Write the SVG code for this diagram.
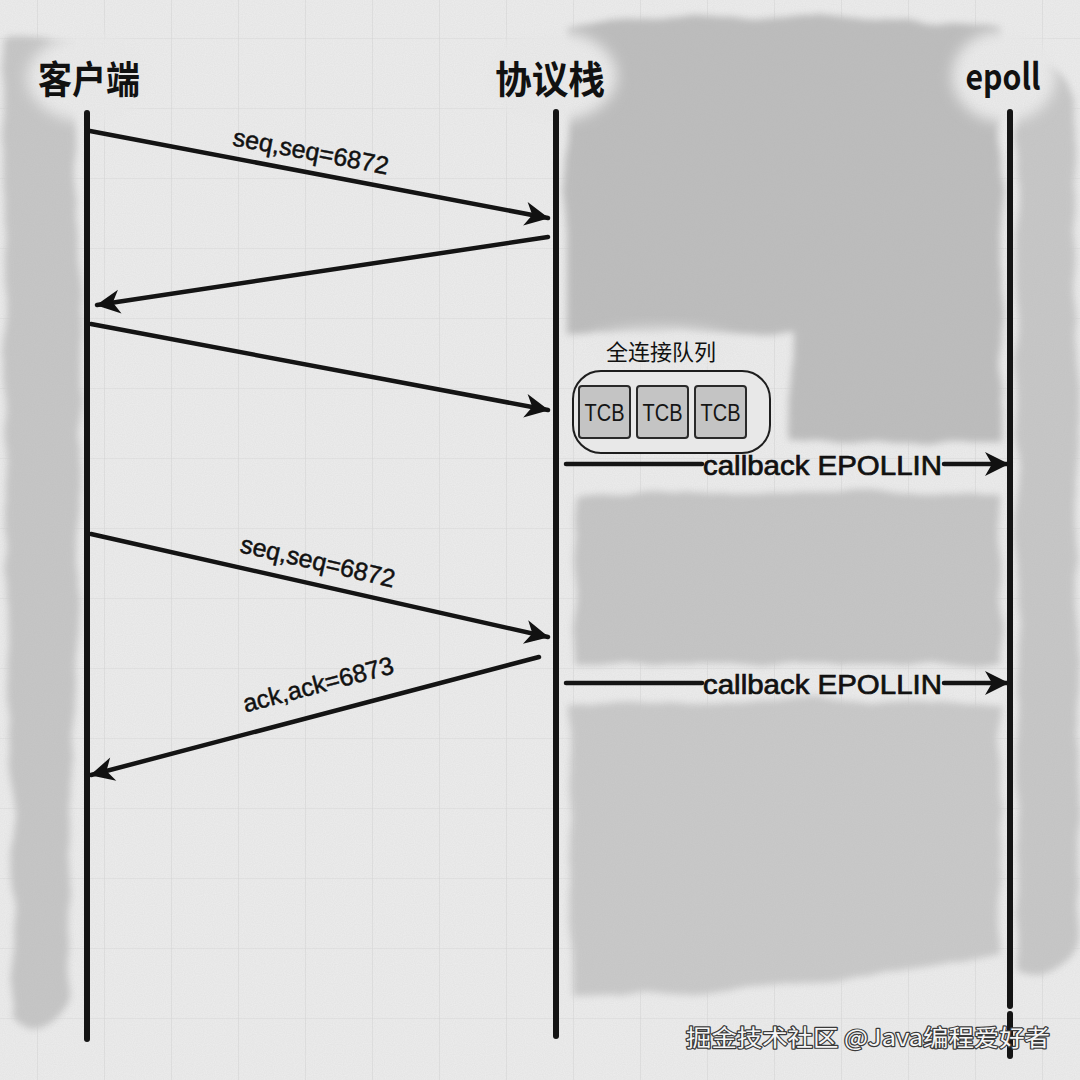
<svg xmlns="http://www.w3.org/2000/svg" width="1080" height="1080" viewBox="0 0 1080 1080">
<style>
.life{stroke:#141414;stroke-width:6;stroke-linecap:round;fill:none}
.msg{stroke:#141414;stroke-width:4.5;fill:none;stroke-linecap:round}
.title{font-family:"Noto Sans CJK SC","Liberation Sans",sans-serif;font-weight:700;fill:#111;text-anchor:middle}
.lbl{font-family:"Liberation Sans","Noto Sans",sans-serif;font-size:25px;fill:#111;stroke:#111;stroke-width:0.5;text-anchor:middle}
.cb{font-family:"Liberation Sans","Noto Sans",sans-serif;font-size:27px;fill:#111;stroke:#111;stroke-width:0.7}
.tcb{fill:#c4c4c4;stroke:#2a2a2a;stroke-width:2}
.tcbt{font-family:"Liberation Sans",sans-serif;font-size:23px;fill:#151515;text-anchor:middle}
.shade{filter:url(#rough)}
.halo{fill:#ebebeb;filter:url(#soft)}
.wm{font-family:"Noto Sans CJK SC","Liberation Sans",sans-serif;font-size:23px;fill:#f6f6f6;stroke:#3a3a3a;stroke-width:2.4;paint-order:stroke;stroke-linejoin:round}
</style>
<defs>
<pattern id="grid" width="67" height="70" patternUnits="userSpaceOnUse" x="-30" y="-32">
<path d="M0,0 H67 M0,0 V70" stroke="#d9d9d9" stroke-width="1.2" fill="none"/>
</pattern>
<filter id="rough" x="-10%" y="-10%" width="120%" height="120%">
<feTurbulence type="fractalNoise" baseFrequency="0.018" numOctaves="2" seed="3" result="n"/>
<feDisplacementMap in="SourceGraphic" in2="n" scale="12" xChannelSelector="R" yChannelSelector="G" result="d"/>
<feGaussianBlur in="d" stdDeviation="3.5"/>
</filter>
<filter id="soft" x="-30%" y="-30%" width="160%" height="160%">
<feGaussianBlur stdDeviation="7"/>
</filter>
<filter id="grain" x="0" y="0" width="100%" height="100%">
<feTurbulence type="fractalNoise" baseFrequency="0.9" numOctaves="1" seed="7" result="t"/>
<feColorMatrix in="t" type="matrix" values="0 0 0 0 0.4  0 0 0 0 0.4  0 0 0 0 0.4  0 0 0 0.35 -0.05"/>
</filter>
<marker id="ah" viewBox="0 0 26 26" refX="24" refY="13" markerWidth="26" markerHeight="26" markerUnits="userSpaceOnUse" orient="auto">
<path d="M1,1 L25,13 L1,25 L8,13 Z" fill="#111"/>
</marker>
</defs>

<!-- paper -->
<rect width="1080" height="1080" fill="#ececec"/>
<rect width="1080" height="1080" fill="url(#grid)"/>

<!-- pencil shading -->
<g id="shading">
<path class="shade" fill="#c6c6c6" d="M4,40 C25,32 55,36 74,48 L80,300 L78,600 L72,760 L68,1000 C55,1035 30,1035 14,1018 L12,820 L6,560 Z"/>
<path class="shade" fill="#bdbdbd" d="M566,28 C680,12 880,16 1000,28 L1002,442 L790,442 L792,334 L566,334 Z"/>
<path class="shade" fill="#c7c7c7" d="M1016,60 C1040,58 1070,70 1076,100 L1078,940 C1070,975 1040,980 1018,975 Z"/>
<path class="shade" fill="#c5c5c5" d="M576,496 C700,490 900,492 1000,494 L1000,664 L576,664 Z"/>
<path class="shade" fill="#c9c9c9" d="M570,706 C700,700 880,700 1000,704 L1000,955 C920,975 800,985 700,992 L572,996 Z"/>
<ellipse class="halo" cx="89" cy="78" rx="62" ry="44"/>
<ellipse class="halo" cx="551" cy="76" rx="66" ry="46"/>
<ellipse class="halo" cx="1004" cy="76" rx="52" ry="46"/>
<ellipse class="halo" cx="662" cy="348" rx="80" ry="20"/>
</g>
<rect width="1080" height="1080" filter="url(#grain)" opacity="0.5"/>

<!-- nodes -->
<g id="node-client">
<text class="title" x="89" y="93" font-size="38" textLength="102" lengthAdjust="spacingAndGlyphs">客户端</text>
<line class="life" x1="87" y1="113" x2="87" y2="1039"/>
</g>
<g id="node-stack">
<text class="title" x="550" y="93" font-size="38" textLength="110" lengthAdjust="spacingAndGlyphs">协议栈</text>
<line class="life" x1="556" y1="112" x2="556" y2="1036"/>
</g>
<g id="node-epoll">
<text class="title" x="1003" y="90" font-size="36" font-family="Liberation Sans, sans-serif" textLength="75" lengthAdjust="spacingAndGlyphs">epoll</text>
<line class="life" x1="1010" y1="112" x2="1010" y2="1006"/>
<line class="life" x1="1010" y1="1014" x2="1010" y2="1056"/>
</g>
<g id="node-queue">
<text x="661" y="360" font-family="Noto Sans CJK SC, sans-serif" font-size="22" fill="#111" text-anchor="middle">全连接队列</text>
<rect x="573" y="371" width="197" height="82" rx="28" ry="28" fill="#e8e8e8" stroke="#1e1e1e" stroke-width="2"/>
<rect class="tcb" x="579" y="386" width="51" height="52" rx="3"/>
<rect class="tcb" x="637" y="386" width="51" height="52" rx="3"/>
<rect class="tcb" x="695" y="386" width="51" height="52" rx="3"/>
<text class="tcbt" x="604.5" y="421" textLength="40" lengthAdjust="spacingAndGlyphs">TCB</text>
<text class="tcbt" x="662.5" y="421" textLength="40" lengthAdjust="spacingAndGlyphs">TCB</text>
<text class="tcbt" x="720.5" y="421" textLength="40" lengthAdjust="spacingAndGlyphs">TCB</text>
</g>

<!-- connectors -->
<g id="connectors">
<path class="msg" d="M90,131 L548,218" marker-end="url(#ah)"/>
<text class="lbl" transform="translate(311,151) rotate(10.75)" y="9">seq,seq=6872</text>
<path class="msg" d="M548,237 L97,305" marker-end="url(#ah)"/>
<path class="msg" d="M91,324 L548,410" marker-end="url(#ah)"/>
<path class="msg" d="M566,464 L702,464 M944,464 L1008,464" marker-end="url(#ah)"/>
<text class="cb" x="703" y="475" textLength="239" lengthAdjust="spacingAndGlyphs">callback EPOLLIN</text>
<path class="msg" d="M91,534 L548,637" marker-end="url(#ah)"/>
<text class="lbl" transform="translate(318,561) rotate(13)" y="9">seq,seq=6872</text>
<path class="msg" d="M539,657 L91,775" marker-end="url(#ah)"/>
<text class="lbl" transform="translate(318,684) rotate(-14.8)" y="9">ack,ack=6873</text>
<path class="msg" d="M566,683 L702,683 M944,683 L1008,683" marker-end="url(#ah)"/>
<text class="cb" x="703" y="694" textLength="239" lengthAdjust="spacingAndGlyphs">callback EPOLLIN</text>
</g>

<!-- watermark -->
<text class="wm" x="686" y="1046" textLength="364" lengthAdjust="spacingAndGlyphs">掘金技术社区 @Java编程爱好者</text>
</svg>
